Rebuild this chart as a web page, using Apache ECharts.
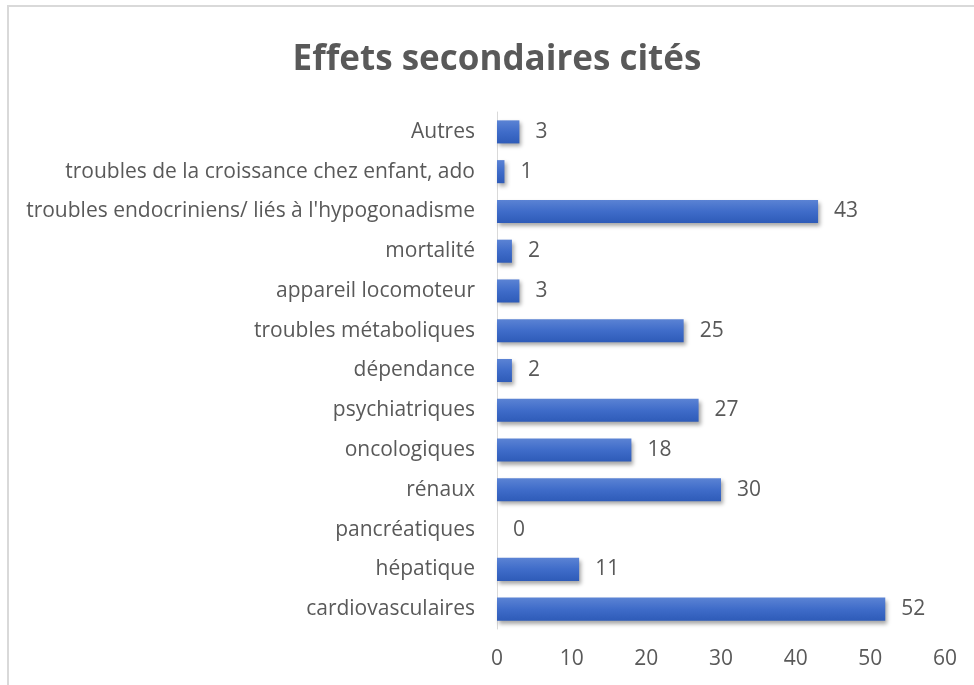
<!DOCTYPE html>
<html>
<head>
<meta charset="utf-8">
<script src="https://cdn.jsdelivr.net/npm/echarts@6/dist/echarts.min.js"></script>
<style>
  html, body { margin: 0; padding: 0; background: #fff; }
  #chart { width: 974px; height: 685px; }
</style>
</head>
<body>
<div id="chart"></div>
<script>
// bottom to top, as the y axis draws them
const categories = [
  'cardiovasculaires',
  'hépatique',
  'pancréatiques',
  'rénaux',
  'oncologiques',
  'psychiatriques',
  'dépendance',
  'troubles métaboliques',
  'appareil locomoteur',
  'mortalité',
  "troubles endocriniens/ liés à l'hypogonadisme",
  'troubles de la croissance chez enfant, ado',
  'Autres'
]
const counts = [52, 11, 0, 30, 18, 27, 2, 25, 3, 2, 43, 1, 3]
const xTicks = [0, 60, 10]  // min, max, interval

const chart = echarts.init(document.getElementById('chart'))
const textColor = '#595959'
const font = '"Open Sans", sans-serif'

chart.setOption({
  animation: false,
  title: {
    text: 'Effets secondaires cités',
    left: 492,
    top: 55,
    textAlign: 'center',
    textVerticalAlign: 'middle',
    textStyle: { fontFamily: font, fontSize: 35, fontWeight: 'bold', color: textColor }
  },
  graphic: [{
    type: 'rect',
    shape: { x: 8, y: 6, width: 1000, height: 700 },
    style: { fill: 'none', stroke: '#d9d9d9', lineWidth: 2 },
    silent: true
  }],
  grid: { left: 497, right: 29, top: 112, bottom: 56, containLabel: false },
  xAxis: {
    type: 'value',
    min: xTicks[0],
    max: xTicks[1],
    interval: xTicks[2],
    axisLine: { show: false },
    axisTick: { show: false },
    splitLine: { show: false },
    axisLabel: { color: textColor, fontFamily: font, fontSize: 21, margin: 20 }
  },
  yAxis: {
    type: 'category',
    data: categories,
    axisLine: { show: true, lineStyle: { color: '#d9d9d9', width: 1 } },
    axisTick: { show: false },
    axisLabel: { color: textColor, fontFamily: font, fontSize: 21, margin: 22 }
  },
  series: [{
    type: 'bar',
    data: counts,
    barCategoryGap: '42%',
    itemStyle: {
      color: new echarts.graphic.LinearGradient(0, 0, 0, 1, [
        { offset: 0, color: '#5b83d4' },
        { offset: 0.5, color: '#3f6cc9' },
        { offset: 1, color: '#2e5bb8' }
      ]),
      shadowColor: 'rgba(0,0,0,0.35)',
      shadowBlur: 4,
      shadowOffsetX: 2,
      shadowOffsetY: 3
    },
    label: {
      show: true,
      position: 'right',
      distance: 16,
      color: textColor,
      fontFamily: font,
      fontSize: 21
    }
  }]
})
</script>
</body>
</html>
